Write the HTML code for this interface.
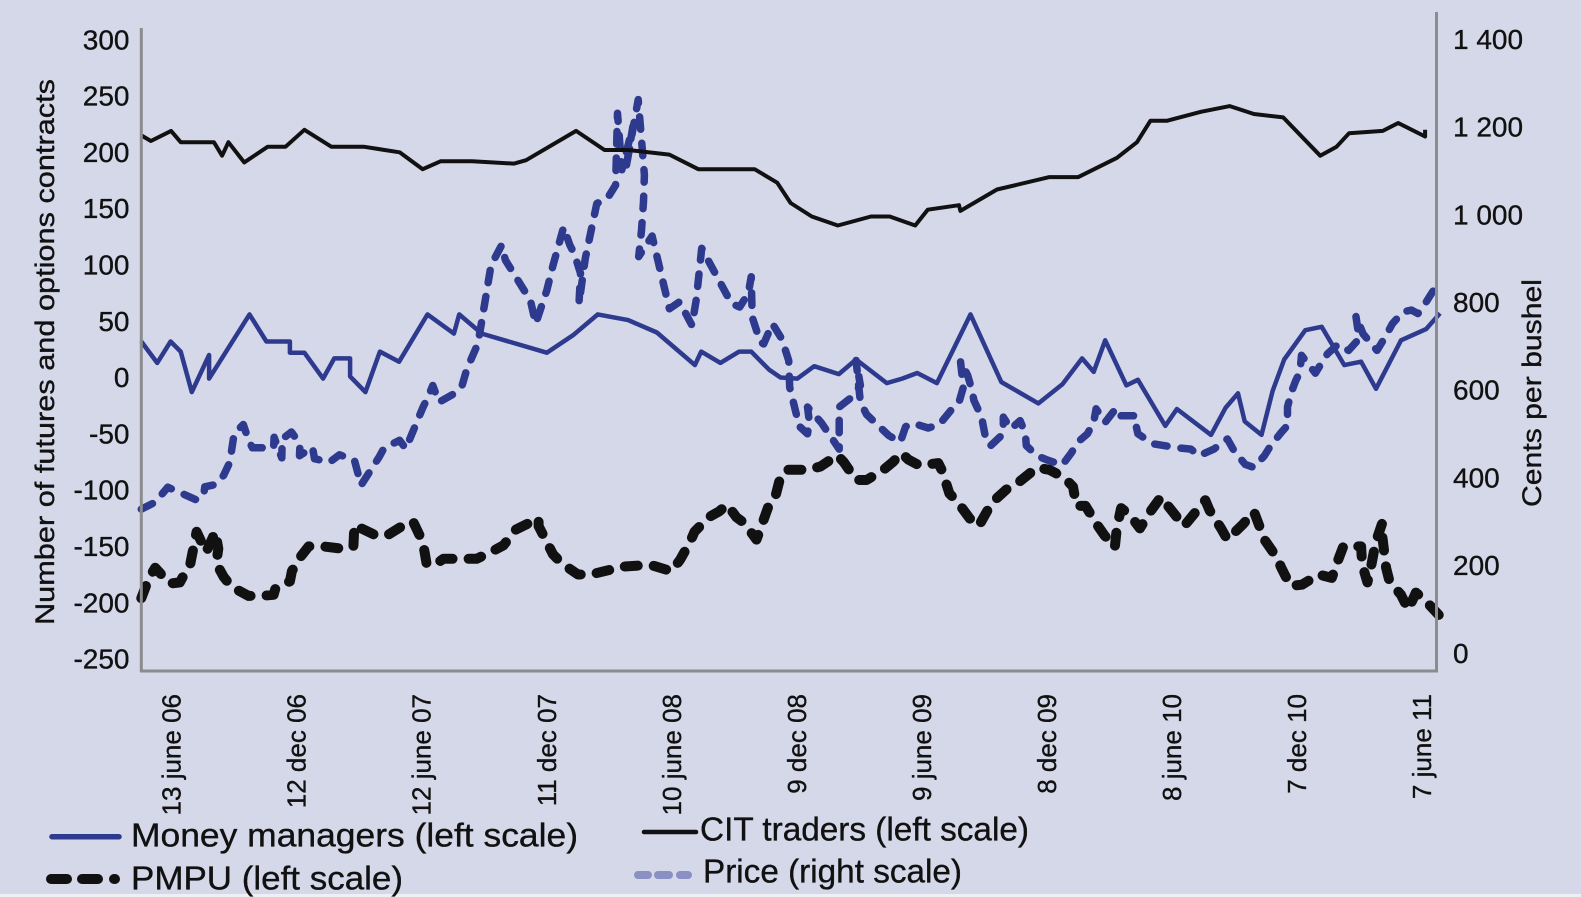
<!DOCTYPE html>
<html lang="en">
<head>
<meta charset="utf-8">
<title>Futures and options contracts and price</title>
<style>
html,body{margin:0;padding:0;background:#d5d8e8;}
svg{display:block;font-family:"Liberation Sans",sans-serif;}
text{fill:#111;stroke:#111;stroke-width:0.35px;}
</style>
</head>
<body>
<svg id="chart" xmlns="http://www.w3.org/2000/svg" width="1581" height="897" viewBox="0 0 1581 897">
  <rect x="0" y="0" width="1581" height="894" fill="#d5d8e8"/>
  <rect x="0" y="894" width="1581" height="3" fill="#eef0f6"/>
  <g id="marks"></g>
  <line x1="141.3" y1="28" x2="141.3" y2="672" stroke="#8b8c8e" stroke-width="3"/>
  <line x1="1436.5" y1="12" x2="1436.5" y2="672" stroke="#8b8c8e" stroke-width="3"/>
  <line x1="140" y1="671" x2="1438" y2="671" stroke="#8b8c8e" stroke-width="3"/>
  <g id="leftTicks"></g>
  <g id="rightTicks"></g>
  <g id="dateTicks"></g>
  <text transform="translate(54,352) rotate(-90)" text-anchor="middle" font-size="27" textLength="546" lengthAdjust="spacingAndGlyphs">Number of futures and options contracts</text>
  <text transform="translate(1541,393) rotate(-90)" text-anchor="middle" font-size="27" textLength="228" lengthAdjust="spacingAndGlyphs">Cents per bushel</text>
  <g>
    <line x1="52" y1="836.7" x2="119" y2="836.7" stroke="#2e3a8e" stroke-width="5.5" stroke-linecap="round"/>
    <text x="131" y="846.7" font-size="33" textLength="447" lengthAdjust="spacingAndGlyphs">Money managers (left scale)</text>
    <line x1="644" y1="832" x2="696" y2="832" stroke="#111" stroke-width="4.5" stroke-linecap="round"/>
    <text x="700" y="840.7" font-size="33" textLength="329" lengthAdjust="spacingAndGlyphs">CIT traders (left scale)</text>
    <path d="M51 879H67M82 879H98M114 879H115" stroke="#111" stroke-width="10" stroke-linecap="round" fill="none"/>
    <text x="131" y="889.3" font-size="33" textLength="272" lengthAdjust="spacingAndGlyphs">PMPU (left scale)</text>
    <path d="M638 875H648M658 875H669M680 875H688" stroke="#8a90c4" stroke-width="8" stroke-linecap="round" fill="none"/>
    <text x="703" y="882.7" font-size="33" textLength="259" lengthAdjust="spacingAndGlyphs">Price (right scale)</text>
  </g>
</svg>
<script>
var dateLabels = ["13 june 06","12 dec 06","12 june 07","11 dec 07","10 june 08","9 dec 08","9 june 09","8 dec 09","8 june 10","7 dec 10","7 june 11"];
var dateTickWeeks = [6.3,32.3,58.3,84.3,110.3,136.3,162.3,188.3,214.3,240.3,266.3];
var leftTickValues = [300,250,200,150,100,50,0,-50,-100,-150,-200,-250];
var rightTickValues = [1400,1200,1000,800,600,400,200,0];
var rightTickLabels = ["1 400","1 200","1 000","800","600","400","200","0"];

var moneyWeeks = [0,3.3,6.1,8.2,10.5,14.1,14.1,22.5,26,30.9,30.9,33.9,37.8,40.1,43.4,43.4,46.6,49.6,53.6,59.5,65,66.1,70.8,84.3,89.9,94.9,101.2,107.2,115.1,116.4,120.4,124.3,126.8,130.5,132.9,136.4,139.9,145,148.6,155,158.2,161.3,165.4,172.4,178.8,186.5,191.5,195.6,198,200.4,204.8,207.2,212.9,215.3,222.4,225.4,228,229.4,232.9,235.2,237.6,242,245.4,250.1,253.6,256.7,261.9,267.1,270];
var moneyValues = [32,13,32,23,-13,20,-1,56,32,32,22,22,-1,17,17,1,-13,23,14,56,39,56,39,22,38,56,51,40,11,23,13,23,23,7,0,-1,10,3,16,-5,-1,4,-5,56,-4,-23,-6,17,5,33,-7,-2,-43,-28,-51,-27,-14,-39,-51,-12,16,42,45,11,14,-10,33,43,57];

var citWeeks = [0,2,6.2,8.2,15.1,16.8,18.1,21.4,26.3,30,33.9,39.5,46.2,53.7,58.5,62.2,68.8,77.5,80,90.4,96.3,101.2,109.8,115.8,121.8,127.5,132.2,135,139.4,144.8,151.7,155.6,160.9,163.5,170,170.3,177.9,188.8,194.8,202.8,207,209.8,213.2,220.3,226.3,231.3,237.4,245.1,248.5,251.1,258.1,261.3,266.9,266.9];
var citValues = [215,210,219,209,209,197,209,191,205,205,220,205,205,200,185,192,192,190,193,219,202,202,198,185,185,185,173,155,143,135,143,143,135,149,153,148,167,178,178,195,209,228,228,236,241,234,231,197,205,217,219,226,214,220];

var pmpuWeeks = [0,1.6,2.9,5.9,8,10.2,11.5,13.5,15.4,16,15.6,17.1,18.8,22.3,24.9,27.5,27.9,30.9,31.3,32.6,34.8,37.8,41.7,44.1,44.3,48.6,51.2,54.6,56.5,58.5,58.9,59.3,60.8,62.8,66.7,69.7,72.7,75.3,77.9,82.6,82.6,85.6,87.4,90.8,93.4,97.3,99.9,103.7,106.3,110.2,112,114.1,115,118,120.1,121.8,123.7,125.3,127.9,129,130.5,131.8,132.9,134.2,138.5,141.2,144.7,146,148.6,150.8,154.3,156.3,158,159.5,161.7,165.7,166.5,168,169.6,172.2,174.1,176.2,177.9,180.5,182.7,186.2,188.8,191.9,193.7,194.4,196.3,198.9,200.2,202.4,202.8,203.7,205.5,207.6,209.8,212,213.8,216.8,221.2,222.1,224.5,225.8,229.1,231.3,232.9,233.5,236.1,237,238.9,241.3,244.8,247.5,249,249.9,253.6,253.8,254.9,255.8,256.6,258,258,258.8,259.5,261.9,263.4,265,266.7,270];
var pmpuValues = [-196,-178,-169,-183,-182,-165,-137,-155,-137,-152,-165,-177,-186,-194,-194,-193,-187,-181,-172,-162,-150,-150,-152,-150,-131,-140,-140,-131,-128,-146,-155,-165,-167,-161,-161,-161,-155,-149,-135,-125,-132,-157,-165,-175,-175,-171,-168,-167,-167,-172,-162,-146,-137,-124,-119,-113,-124,-129,-144,-131,-113,-106,-88,-82,-82,-79,-69,-75,-91,-91,-82,-75,-67,-73,-78,-76,-83,-103,-110,-125,-132,-116,-107,-97,-92,-80,-82,-89,-97,-114,-114,-132,-140,-151,-134,-116,-122,-134,-119,-106,-116,-132,-109,-118,-134,-144,-130,-119,-137,-144,-160,-169,-185,-184,-175,-178,-160,-150,-150,-166,-182,-165,-147,-129,-141,-169,-181,-193,-206,-191,-197,-212];

var priceWeeks = [0,2.9,5.5,11.5,13,13.2,15.4,17.1,18.4,19.3,21.2,22.3,23.1,27.5,27.6,29.2,29.3,31.2,33,32.9,35.6,36,39.1,41.2,44.3,45.7,49.4,50.5,53.7,55,58.5,59.6,60.6,61.9,65,66.7,67.7,70,71.4,72.7,74.9,75.7,80.9,82,84.3,85.6,87.8,89.1,90,91.3,91,92.3,94.7,96.9,98.6,99,99.9,102.2,100.7,103.3,104.6,104.4,104,103.4,106.2,109.8,111.9,114.5,115.4,116.5,122.7,124.4,126.2,126.8,127,128.7,129.4,131.2,132.9,133.5,134.6,134.8,136.2,136.5,138.5,138.9,138.5,141.4,145.1,145.1,147.3,149.5,148.6,149.5,150.8,155.4,157.8,158.9,160.4,163.6,165.9,168.3,170,170.9,170.3,171.8,172.7,173.1,174.7,175.7,176.6,179.2,179.2,180.8,182.7,183.8,184,186.2,188.4,191.5,193.2,195,196.7,198,198.5,200.4,202.7,203.7,206.8,206.8,207.2,210.3,215.5,218.2,219.9,223,225.8,227.2,229.5,231.3,233.5,234.8,237,238.3,238.3,239.1,240,240.9,241.2,244.1,245.3,246.6,248.8,251,253.2,252.5,254,256.9,258.8,260.1,262.3,264.1,265.4,266.7,268,270];
var priceValues = [328,344,378,349,361,379,384,405,435,500,521,485,468,468,492,445,488,504,477,450,469,443,435,452,440,383,446,468,485,466,559,584,610,572,591,610,648,706,797,884,930,896,804,751,827,884,971,930,911,866,797,900,1025,1037,1067,1231,1102,1201,1102,1262,1090,1029,964,904,951,785,801,747,808,923,797,789,820,858,766,709,705,751,721,705,667,606,544,520,500,527,561,525,465,561,580,610,667,572,544,496,481,516,524,513,521,553,572,606,667,633,599,576,538,481,473,500,538,511,530,500,473,450,440,429,454,484,500,526,557,526,559,541,541,519,500,477,468,465,450,465,488,461,430,423,450,473,503,519,561,595,621,641,679,638,660,682,704,690,717,770,728,690,724,751,778,782,774,793,816,850];

var SVG_NS = 'http://www.w3.org/2000/svg';
function xWeek(w){ return 141.3 + 4.81 * w; }
function yLeft(v){ return 377.5 - 1.126 * v; }
function yRight(v){ return 653 - 0.4385 * v; }

function buildPath(weeks, values, yFn){
  var d = '';
  for (var i = 0; i < weeks.length; i++) {
    d += (i ? 'L' : 'M') + xWeek(weeks[i]).toFixed(1) + ' ' + yFn(values[i]).toFixed(1);
  }
  return d;
}
function makeLine(weeks, values, yFn, color, width, dash){
  var p = document.createElementNS(SVG_NS, 'path');
  p.setAttribute('d', buildPath(weeks, values, yFn));
  p.setAttribute('fill', 'none');
  p.setAttribute('stroke', color);
  p.setAttribute('stroke-width', width);
  p.setAttribute('stroke-linejoin', 'round');
  if (dash) {
    p.setAttribute('stroke-dasharray', dash);
    p.setAttribute('stroke-linecap', 'round');
  }
  document.getElementById('marks').appendChild(p);
  return p;
}

var priceLine = makeLine(priceWeeks, priceValues, yRight, '#2e3a8e', 7.5, '12.5 14');


var pmpuLine = makeLine(pmpuWeeks, pmpuValues, yLeft, '#111111', 10, '13 16');


var moneyLine = makeLine(moneyWeeks, moneyValues, yLeft, '#2e3a8e', 4.5);


var citLine = makeLine(citWeeks, citValues, yLeft, '#111111', 4);



leftTickValues.forEach(function(v){
  var t = document.createElementNS(SVG_NS, 'text');
  
  
  t.setAttribute('x', 129.5);
  t.setAttribute('y', (yLeft(v) + 9.6).toFixed(1));
  t.setAttribute('text-anchor', 'end');
  t.setAttribute('font-size', '28');
  t.textContent = String(v);
  document.getElementById('leftTicks').appendChild(t);
});
rightTickValues.forEach(function(v, i){
  var t = document.createElementNS(SVG_NS, 'text');
  
  
  t.setAttribute('x', 1453);
  t.setAttribute('y', (yRight(v) + 9.8).toFixed(1));
  t.setAttribute('font-size', '28');
  t.setAttribute('xml:space', 'preserve');
  t.textContent = rightTickLabels[i];
  document.getElementById('rightTicks').appendChild(t);
});
dateLabels.forEach(function(label, i){
  var t = document.createElementNS(SVG_NS, 'text');
  
  
  t.setAttribute('transform', 'translate(' + (xWeek(dateTickWeeks[i]) + 9).toFixed(1) + ',694) rotate(-90)');
  t.setAttribute('text-anchor', 'end');
  t.setAttribute('font-size', '26');
  t.textContent = label;
  document.getElementById('dateTicks').appendChild(t);
});
</script>
</body>
</html>
